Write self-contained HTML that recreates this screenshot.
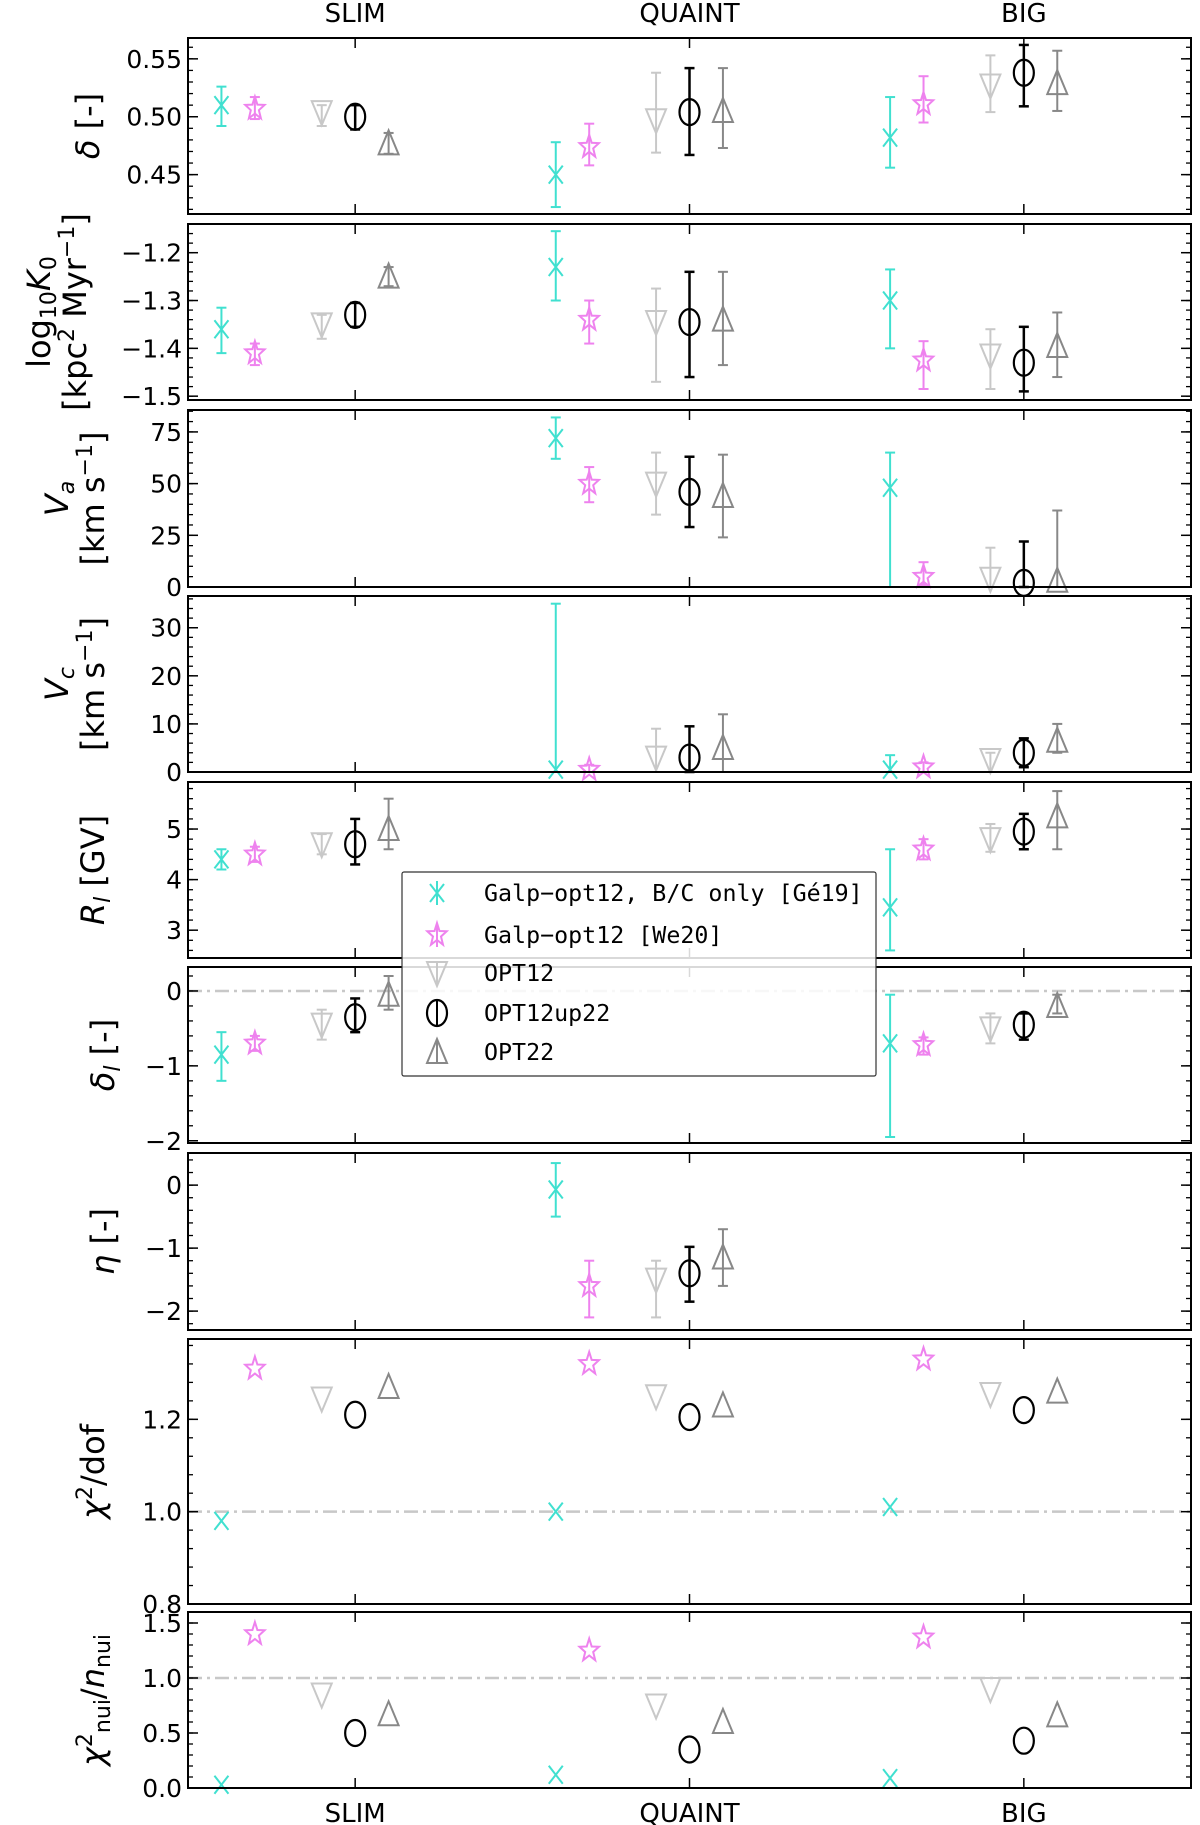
<!DOCTYPE html>
<html><head><meta charset="utf-8"><style>
html,body{margin:0;padding:0;background:#fff;}
svg{display:block;}
text{font-family:"DejaVu Sans","Liberation Sans",sans-serif;fill:#000;}
</style></head>
<body>
<svg id="chart" width="1200" height="1825" viewBox="0 0 1200 1825" xmlns="http://www.w3.org/2000/svg"></svg>
<script>
// ---- data ----
const categories = ["SLIM","QUAINT","BIG"];
const seriesNames = ["Galp\u2212opt12, B/C only [Gé19]","Galp\u2212opt12 [We20]","OPT12","OPT12up22","OPT22"];
const deltaVal = [[0.510,0.450,0.482],[0.507,0.474,0.511],[0.504,0.497,0.527],[0.500,0.504,0.538],[0.477,0.505,0.529]];
const deltaLo  = [[0.492,0.422,0.456],[0.498,0.458,0.495],[0.492,0.469,0.504],[0.489,0.467,0.509],[0.468,0.473,0.505]];
const deltaHi  = [[0.526,0.478,0.517],[0.517,0.494,0.535],[0.510,0.538,0.553],[0.510,0.542,0.562],[0.486,0.542,0.557]];
const k0Val = [[-1.36,-1.23,-1.30],[-1.41,-1.34,-1.425],[-1.35,-1.345,-1.415],[-1.33,-1.345,-1.43],[-1.25,-1.34,-1.395]];
const k0Lo  = [[-1.41,-1.30,-1.40],[-1.435,-1.39,-1.485],[-1.38,-1.47,-1.485],[-1.355,-1.46,-1.49],[-1.27,-1.435,-1.46]];
const k0Hi  = [[-1.315,-1.155,-1.235],[-1.39,-1.30,-1.385],[-1.33,-1.275,-1.36],[-1.305,-1.24,-1.355],[-1.23,-1.24,-1.325]];
const vaVal = [[null,72,48],[null,50,5],[null,50,4],[null,46,2],[null,44,3]];
const vaLo  = [[null,62,0],[null,41,1],[null,35,0],[null,29,0],[null,24,0]];
const vaHi  = [[null,82,65],[null,58,12],[null,65,19],[null,63,22],[null,64,37]];
const vcVal = [[null,0.5,0.5],[null,0.5,1],[null,3,2.5],[null,3,4],[null,5,6.5]];
const vcLo  = [[null,0,0],[null,0,0],[null,0,0],[null,0,1],[null,0,4]];
const vcHi  = [[null,35,3.5],[null,1.5,2],[null,9,4],[null,9.5,7],[null,12,10]];
const rlVal = [[4.4,null,3.45],[4.5,null,4.6],[4.7,null,4.8],[4.7,null,4.95],[5.0,null,5.25]];
const rlLo  = [[4.2,null,2.6],[4.35,null,4.4],[4.5,null,4.55],[4.3,null,4.6],[4.6,null,4.6]];
const rlHi  = [[4.6,null,4.6],[4.65,null,4.8],[4.9,null,5.1],[5.2,null,5.3],[5.6,null,5.75]];
const dlVal = [[-0.85,null,-0.7],[-0.7,null,-0.72],[-0.45,null,-0.5],[-0.35,null,-0.45],[-0.05,null,-0.2]];
const dlLo  = [[-1.2,null,-1.95],[-0.8,null,-0.85],[-0.65,null,-0.7],[-0.55,null,-0.65],[-0.25,null,-0.3]];
const dlHi  = [[-0.55,null,-0.05],[-0.6,null,-0.62],[-0.25,null,-0.3],[-0.1,null,-0.3],[0.2,null,-0.05]];
const etaVal = [[null,-0.07,null],[null,-1.6,null],[null,-1.5,null],[null,-1.4,null],[null,-1.15,null]];
const etaLo  = [[null,-0.5,null],[null,-2.1,null],[null,-2.1,null],[null,-1.85,null],[null,-1.6,null]];
const etaHi  = [[null,0.35,null],[null,-1.2,null],[null,-1.2,null],[null,-0.98,null],[null,-0.7,null]];
const chiVal = [[0.98,1.0,1.01],[1.31,1.32,1.33],[1.245,1.25,1.255],[1.21,1.205,1.22],[1.27,1.23,1.26]];
const nuiVal = [[0.03,0.12,0.09],[1.4,1.25,1.37],[0.85,0.75,0.9],[0.5,0.35,0.43],[0.67,0.6,0.66]];
const deltaTicks=[0.45,0.50,0.55], k0Ticks=[-1.5,-1.4,-1.3,-1.2], vaTicks=[0,25,50,75], vcTicks=[0,10,20,30],
      rlTicks=[3,4,5], dlTicks=[-2,-1,0], etaTicks=[-2,-1,0], chiTicks=[0.8,1.0,1.2], nuiTicks=[0.0,0.5,1.0,1.5];

// ---- layout ----
const NS="http://www.w3.org/2000/svg";
const svg=document.getElementById('chart');
const X0=188, X1=1191;
const colors=["#40e0d0","#ee82ee","#c8c8c8","#000000","#888888"];
const offsets=[-0.4,-0.3,-0.1,0,0.1];
function xs(v){return X0+(v+0.5)/3*(X1-X0);}
function mk(tag,attrs,parent){const e=document.createElementNS(NS,tag);for(const k in attrs)e.setAttribute(k,attrs[k]);(parent||svg).appendChild(e);return e;}

const panels=[
 {name:'delta',top:38,bot:214,dom:[0.416,0.568],val:deltaVal,lo:deltaLo,hi:deltaHi,ticks:deltaTicks,minor:0.01,fmt:v=>v.toFixed(2),labels:[[[['δ',1],[' [-]',0]],99]]},
 {name:'k0',top:224,bot:400,dom:[-1.508,-1.14],val:k0Val,lo:k0Lo,hi:k0Hi,ticks:k0Ticks,minor:0.02,fmt:v=>'\u2212'+Math.abs(v).toFixed(1),labels:[[[['log',0],['10',0,'sub'],['K',1],['0',0,'sub']],50],[[['[kpc',0],['2',0,'super'],[' Myr',0],['\u22121',0,'super'],[']',0]],86]]},
 {name:'va',top:410,bot:587,dom:[0,85.6],val:vaVal,lo:vaLo,hi:vaHi,ticks:vaTicks,minor:5,fmt:v=>String(v),labels:[[[['V',1],['a',1,'sub']],68],[[['[km s',0],['\u22121',0,'super'],[']',0]],104]]},
 {name:'vc',top:596,bot:772,dom:[0,36.6],val:vcVal,lo:vcLo,hi:vcHi,ticks:vcTicks,minor:2,fmt:v=>String(v),labels:[[[['V',1],['c',1,'sub']],68],[[['[km s',0],['\u22121',0,'super'],[']',0]],104]]},
 {name:'rl',top:782,bot:958,dom:[2.45,5.93],val:rlVal,lo:rlLo,hi:rlHi,ticks:rlTicks,minor:0.2,fmt:v=>String(v),labels:[[[['R',1],['l',1,'sub'],[' [GV]',0]],104]]},
 {name:'delta-l',top:967,bot:1143,dom:[-2.03,0.32],val:dlVal,lo:dlLo,hi:dlHi,ticks:dlTicks,minor:0.2,fmt:v=>v<0?'\u2212'+Math.abs(v):String(v),labels:[[[['δ',1],['l',1,'sub'],[' [-]',0]],114]],hline:0},
 {name:'eta',top:1153,bot:1330,dom:[-2.3,0.51],val:etaVal,ticks:etaTicks,lo:etaLo,hi:etaHi,minor:0.2,fmt:v=>v<0?'\u2212'+Math.abs(v):String(v),labels:[[[['η',1],[' [-]',0]],114]]},
 {name:'chi2-dof',top:1339,bot:1604,dom:[0.8,1.374],val:chiVal,ticks:chiTicks,minor:0.04,fmt:v=>v.toFixed(1),labels:[[[['χ',1],['2',0,'super'],['/dof',0]],104]],hline:1.0},
 {name:'chi2-nui',top:1612,bot:1788,dom:[0,1.6],val:nuiVal,ticks:nuiTicks,minor:0.1,fmt:v=>v.toFixed(1),labels:[[[['χ',1],['2',0,'super'],['nui',0,'sub'],['/',0],['n',1],['nui',0,'sub']],104]],hline:1.0}
];

function marker(g,s,x,y){
  const c=colors[s];
  if(s===0){mk('path',{d:`M${x-7} ${y-9}L${x+7} ${y+9}M${x+7} ${y-9}L${x-7} ${y+9}`,stroke:c,'stroke-width':2,fill:'none'},g);}
  else if(s===1){let p='';for(let i=0;i<10;i++){const r=i%2?5:12;const a=-Math.PI/2+i*Math.PI/5;p+=(i?'L':'M')+(x+r*0.85*Math.cos(a)).toFixed(1)+' '+(y+r*Math.sin(a)).toFixed(1);}mk('path',{d:p+'Z',stroke:c,'stroke-width':2,fill:'none'},g);}
  else if(s===2){mk('path',{d:`M${x-10} ${y-11}L${x+10} ${y-11}L${x} ${y+13}Z`,stroke:c,'stroke-width':2,fill:'none'},g);}
  else if(s===3){mk('ellipse',{cx:x,cy:y,rx:10,ry:13,stroke:c,'stroke-width':2.2,fill:'none'},g);}
  else {mk('path',{d:`M${x-10} ${y+11}L${x+10} ${y+11}L${x} ${y-13}Z`,stroke:c,'stroke-width':2,fill:'none'},g);}
}

panels.forEach((P,pi)=>{
  const g=mk('g',{});
  
  
  const ys=v=>P.bot-(v-P.dom[0])/(P.dom[1]-P.dom[0])*(P.bot-P.top);
  if(P.hline!==undefined){const hl=mk('line',{x1:X0,x2:X1,y1:ys(P.hline),y2:ys(P.hline),stroke:'#c8c8c8','stroke-width':2.5,'stroke-dasharray':'14 5 3 5'},g);
    }
  const st=Math.ceil(P.dom[0]/P.minor-1e-6);
  for(let k=st;k*P.minor<=P.dom[1]+1e-9;k++){const v=k*P.minor,y=ys(v);
    mk('line',{x1:X0,x2:X0+5,y1:y,y2:y,stroke:'#000','stroke-width':1.3},g);
    mk('line',{x1:X1-5,x2:X1,y1:y,y2:y,stroke:'#000','stroke-width':1.3},g);}
  P.ticks.forEach(v=>{const y=ys(v);
    mk('line',{x1:X0,x2:X0+10,y1:y,y2:y,stroke:'#000','stroke-width':1.5},g);
    mk('line',{x1:X1-10,x2:X1,y1:y,y2:y,stroke:'#000','stroke-width':1.5},g);
    const t=mk('text',{x:X0-6,y:y+9,'text-anchor':'end','font-size':25},g);t.textContent=P.fmt(v);
    });
  categories.forEach((c,ci)=>{const x=xs(ci);
    mk('line',{x1:x,x2:x,y1:P.top,y2:P.top+10,stroke:'#000','stroke-width':1.5},g);
    mk('line',{x1:x,x2:x,y1:P.bot-10,y2:P.bot,stroke:'#000','stroke-width':1.5},g);});
  P.val.forEach((row,s)=>{row.forEach((v,ci)=>{ if(v===null)return;
    const x=xs(ci+offsets[s]);const y=ys(v);
    const mg=mk('g',{},g);
    
    
    if(P.lo){const y1=ys(P.lo[s][ci]),y2=ys(P.hi[s][ci]);const c=colors[s];const w=s===3?2.5:2;
      mk('line',{x1:x,x2:x,y1:y1,y2:y2,stroke:c,'stroke-width':w},mg);
      mk('line',{x1:x-5,x2:x+5,y1:y1,y2:y1,stroke:c,'stroke-width':w},mg);
      mk('line',{x1:x-5,x2:x+5,y1:y2,y2:y2,stroke:c,'stroke-width':w},mg);}
    marker(mg,s,x,y);});});
  const fr=mk('rect',{x:X0,y:P.top,width:X1-X0,height:P.bot-P.top,fill:'none',stroke:'#000','stroke-width':2},g);
  
  const cy=(P.top+P.bot)/2;
  P.labels.forEach(([parts,x])=>{const t=mk('text',{x:x,y:cy,'text-anchor':'middle','font-size':32,transform:`rotate(-90 ${x} ${cy})`},g);
    
    parts.forEach(([s,it,sh])=>{const ts=mk('tspan',{},t);ts.textContent=s;
      if(it)ts.setAttribute('font-style','italic');
      if(sh){ts.setAttribute('font-size','22');ts.setAttribute('baseline-shift',sh==='sub'?'-6':'12');}});
  });
});

categories.forEach((c,ci)=>{
  const t1=mk('text',{x:xs(ci),y:22,'text-anchor':'middle','font-size':26});t1.textContent=c;
  
  const t2=mk('text',{x:xs(ci),y:1822,'text-anchor':'middle','font-size':26});t2.textContent=c;
  
});

const lg=mk('g',{});


mk('rect',{x:402,y:872,width:474,height:204,fill:'#fff','fill-opacity':0.85,stroke:'#333','stroke-width':1.2,rx:2},lg);
const legY=[893,935,973,1013,1052];
seriesNames.forEach((n,s)=>{
  const eg=mk('g',{},lg);
  
  
  const y=legY[s];
  mk('line',{x1:437,x2:437,y1:y-12,y2:y+12,stroke:colors[s],'stroke-width':2},eg);
  marker(eg,s,437,y);
  const t=mk('text',{x:484,y:y+8,'font-size':23.3,style:'font-family:"DejaVu Sans Mono","Liberation Mono",monospace'},eg);t.textContent=n;
});
</script>
</body></html>
